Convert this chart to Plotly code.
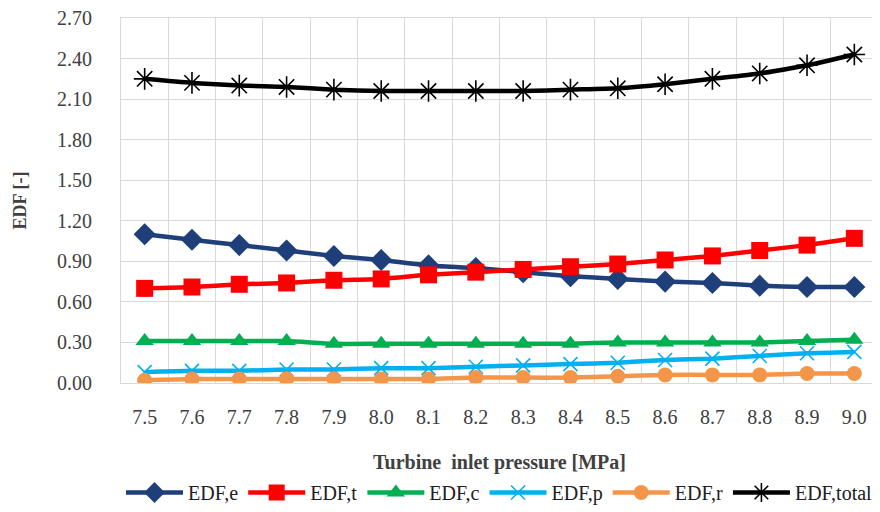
import plotly.graph_objects as go

pressure = ["7.5", "7.6", "7.7", "7.8", "7.9", "8.0", "8.1", "8.2",
            "8.3", "8.4", "8.5", "8.6", "8.7", "8.8", "8.9", "9.0"]

edf_e = [1.10, 1.06, 1.02, 0.98, 0.94, 0.91, 0.87, 0.85,
         0.82, 0.79, 0.77, 0.75, 0.74, 0.72, 0.71, 0.71]
edf_t = [0.70, 0.71, 0.73, 0.74, 0.76, 0.77, 0.80, 0.82,
         0.84, 0.86, 0.88, 0.91, 0.94, 0.98, 1.02, 1.07]
edf_c = [0.31, 0.31, 0.31, 0.31, 0.29, 0.29, 0.29, 0.29,
         0.29, 0.29, 0.30, 0.30, 0.30, 0.30, 0.31, 0.32]
edf_p = [0.08, 0.09, 0.09, 0.10, 0.10, 0.11, 0.11, 0.12,
         0.13, 0.14, 0.15, 0.17, 0.18, 0.20, 0.22, 0.23]
edf_r = [0.02, 0.03, 0.03, 0.03, 0.03, 0.03, 0.03, 0.04,
         0.04, 0.04, 0.05, 0.06, 0.06, 0.06, 0.07, 0.07]
edf_total = [2.25, 2.22, 2.20, 2.19, 2.17, 2.16, 2.16, 2.16,
             2.16, 2.17, 2.18, 2.21, 2.25, 2.29, 2.35, 2.43]

series = [
    ("EDF,e", edf_e, "#1F3F7A", "diamond", 17),
    ("EDF,t", edf_t, "#FF0000", "square", 17),
    ("EDF,c", edf_c, "#00B050", "triangle-up", 16),
    ("EDF,p", edf_p, "#00B0F0", "x-thin-open", 14),
    ("EDF,r", edf_r, "#F4964A", "circle", 15),
    ("EDF,total", edf_total, "#000000", "asterisk-open", 18),
]

font = "Liberation Serif, Times New Roman, serif"
grid = "#D9D9D9"

fig = go.Figure()
for name, vals, color, symbol, size in series:
    marker = dict(symbol=symbol, size=size, color=color)
    if symbol.endswith("open"):
        marker["line"] = dict(color=color, width=1.6)
    fig.add_trace(go.Scatter(
        x=pressure, y=vals, name=name, mode="lines+markers",
        line=dict(color=color, width=4.5, shape="spline", smoothing=0.6),
        marker=marker,
    ))

# the page puts the figure 8px in from the top-left corner
fig.update_layout(
    width=880, height=512,
    margin=dict(l=113, r=10, t=10, b=137, autoexpand=False),
    paper_bgcolor="white", plot_bgcolor="white",
    font=dict(family=font, size=20, color="#404040"),
    xaxis=dict(
        type="category", range=[-0.5, 15.5], tickson="boundaries",
        showgrid=True, gridcolor=grid, gridwidth=1, ticks="",
        showline=True, mirror=True, linecolor=grid, linewidth=1,
        automargin=False, ticklabelstandoff=16,
        tickfont=dict(family=font, size=20, color="#404040"),
        title=dict(text="<b>Turbine  inlet pressure [MPa]</b>",
                   font=dict(family=font, size=20, color="#404040"),
                   standoff=27),
    ),
    yaxis=dict(
        range=[0, 2.7], dtick=0.3, tickformat=".2f",
        showgrid=True, gridcolor=grid, gridwidth=1, zeroline=False,
        showline=True, mirror=True, linecolor=grid, linewidth=1,
        automargin=False, ticklabelstandoff=24, ticklabeloverflow="allow",
        tickfont=dict(family=font, size=20, color="#404040"),
        title=dict(text="<b>EDF [-]</b>",
                   font=dict(family=font, size=18, color="#404040"),
                   standoff=25),
    ),
    legend=dict(
        orientation="h", x=0.5, xanchor="center", y=-0.30, yanchor="middle",
        font=dict(family=font, size=20, color="#202020"),
        itemwidth=57, tracegroupgap=0,
    ),
)

fig.write_html("out.html")
